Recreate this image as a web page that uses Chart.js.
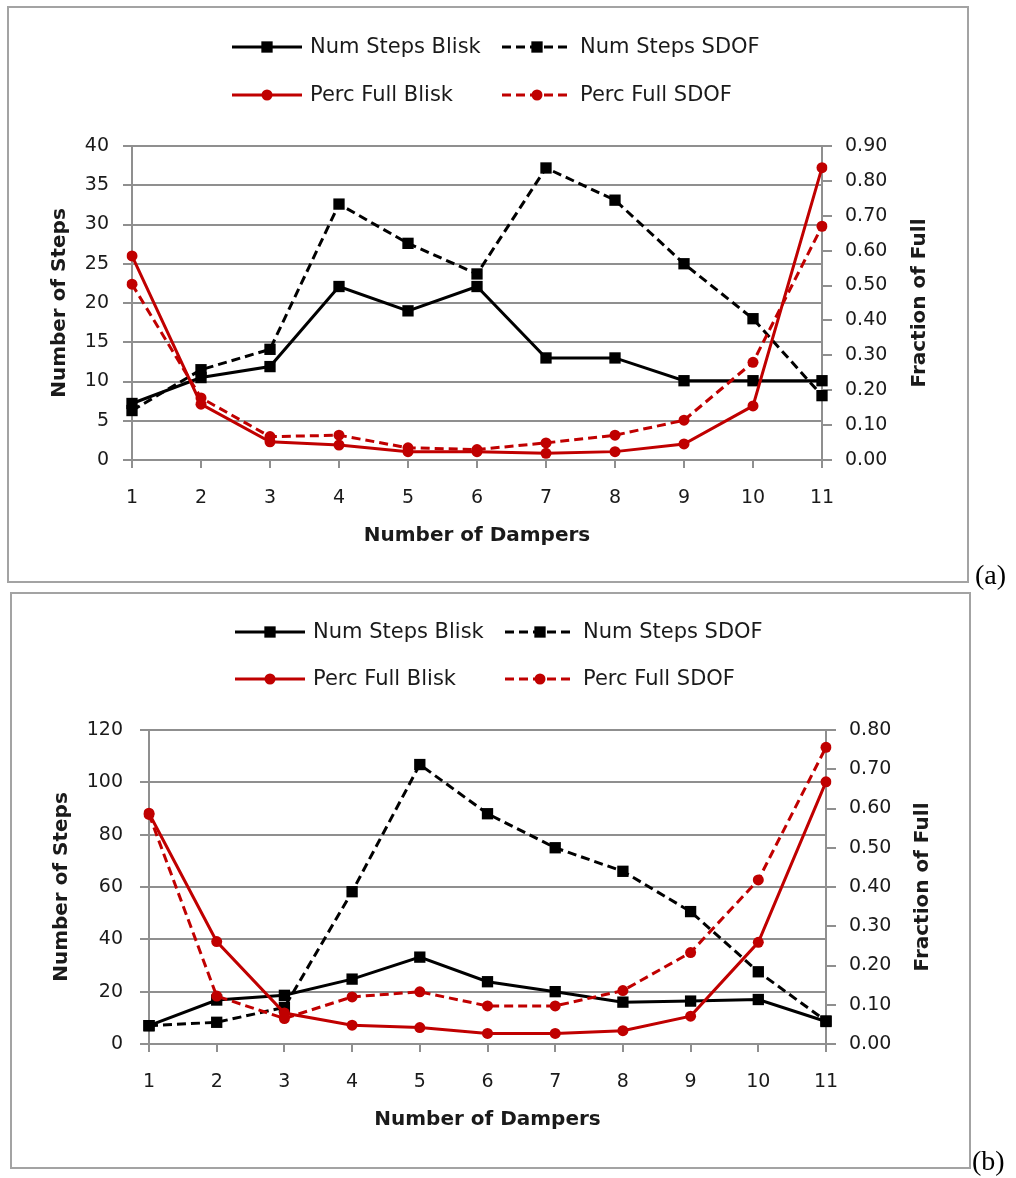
<!DOCTYPE html>
<html>
<head>
<meta charset="utf-8">
<script src="https://cdn.jsdelivr.net/npm/chart.js@4.4.0/dist/chart.umd.min.js"></script>
<style>
  body { margin: 0; background: #fff; width: 1016px; height: 1178px; position: relative; overflow: hidden; }
  .frame { position: absolute; border: 2px solid #a3a3a3; box-sizing: border-box; }
  canvas { position: absolute; left: 0; }
  .tag { position: absolute; font-family: "Liberation Serif", "DejaVu Serif", serif; font-size: 28px; color: #000; line-height: 1; }
</style>
</head>
<body>
<div class="frame" style="left:7px;top:6px;width:962px;height:577px"></div>
<div class="frame" style="left:10px;top:592px;width:961px;height:577px"></div>
<canvas id="chartA" width="1016" height="590" style="top:0"></canvas>
<canvas id="chartB" width="1016" height="588" style="top:590px"></canvas>
<div class="tag" style="left:975px;top:561px">(a)</div>
<div class="tag" style="left:972px;top:1147px">(b)</div>

<script>
// Number of dampers on the x axis
const dampers = ['1', '2', '3', '4', '5', '6', '7', '8', '9', '10', '11'];

// Panel (a)
const stepsBliskA = [7.2, 10.5, 11.9, 22.1, 19.0, 22.1, 13.0, 13.0, 10.1, 10.1, 10.1];
const stepsSdofA  = [6.3, 11.5, 14.1, 32.6, 27.6, 23.7, 37.2, 33.1, 25.0, 18.0, 8.2];
const percBliskA  = [0.585, 0.160, 0.052, 0.043, 0.024, 0.024, 0.019, 0.024, 0.046, 0.155, 0.838];
const percSdofA   = [0.504, 0.178, 0.067, 0.071, 0.035, 0.030, 0.049, 0.071, 0.114, 0.280, 0.670];
const stepRangeA  = [0, 40, 5];      // min, max, step
const fracRangeA  = [0, 0.9, 0.1];

// Panel (b)
const stepsBliskB = [7.0, 16.8, 18.6, 24.8, 33.2, 23.8, 20.0, 16.0, 16.4, 17.0, 8.6];
const stepsSdofB  = [7.0, 8.3, 14.0, 58.2, 106.8, 88.0, 75.0, 66.0, 50.6, 27.6, 8.8];
const percBliskB  = [0.588, 0.261, 0.079, 0.048, 0.042, 0.027, 0.027, 0.034, 0.071, 0.259, 0.668];
const percSdofB   = [0.585, 0.122, 0.065, 0.120, 0.133, 0.097, 0.097, 0.136, 0.233, 0.418, 0.756];
const stepRangeB  = [0, 120, 20];
const fracRangeB  = [0, 0.8, 0.1];

const seriesNames = ['Num Steps Blisk', 'Num Steps SDOF', 'Perc Full Blisk', 'Perc Full SDOF'];

const BLACK = '#000000';
const RED = '#c00000';
const GRID = '#8f8f8f';
const TEXT = '#1a1a1a';
const DASH = [9, 5];
const FONT = 'DejaVu Sans';

// Two-row legend laid out as a grid, plus the right-hand axis title
const gridLegend = {
  id: 'gridLegend',
  afterDraw(chart, args, opts) {
    const ctx = chart.ctx;
    ctx.save();
    chart.data.datasets.forEach((ds, i) => {
      const row = Math.floor(i / 2), col = i % 2;
      const x0 = opts.cols[col], y = opts.rows[row];
      const w = opts.swatch;
      ctx.strokeStyle = ds.borderColor;
      ctx.lineWidth = ds.borderWidth;
      ctx.setLineDash(ds.borderDash || []);
      ctx.beginPath();
      ctx.moveTo(x0, y);
      ctx.lineTo(x0 + w, y);
      ctx.stroke();
      ctx.setLineDash([]);
      ctx.fillStyle = ds.borderColor;
      const cx = x0 + w / 2, r = ds.pointRadius;
      ctx.beginPath();
      if (ds.pointStyle === 'rect') {
        const s = Math.SQRT1_2 * r;
        ctx.rect(cx - s, y - s, 2 * s, 2 * s);
      } else {
        ctx.arc(cx, y, r, 0, Math.PI * 2);
      }
      ctx.fill();
      ctx.fillStyle = TEXT;
      ctx.font = opts.font;
      ctx.textBaseline = 'middle';
      ctx.textAlign = 'left';
      ctx.fillText(ds.label, x0 + w + opts.gap, y + 1);
    });
    // right axis title, reading bottom to top
    const area = chart.chartArea;
    ctx.translate(opts.rightTitleX, (area.top + area.bottom) / 2);
    ctx.rotate(-Math.PI / 2);
    ctx.font = 'bold 20px "' + FONT + '"';
    ctx.fillStyle = TEXT;
    ctx.textAlign = 'center';
    ctx.textBaseline = 'middle';
    ctx.fillText('Fraction of Full', 0, 0);
    ctx.restore();
  }
};

function series(label, data, axis, color, dash, style, radius, order) {
  return {
    label, data, yAxisID: axis,
    borderColor: color, backgroundColor: color,
    borderWidth: 3, borderDash: dash,
    pointStyle: style, pointRadius: radius, pointBorderWidth: 0,
    pointBackgroundColor: color, pointBorderColor: color,
    tension: 0, fill: false, order
  };
}

function buildChart(id, d, g) {
  return new Chart(document.getElementById(id), {
    type: 'line',
    data: {
      labels: dampers,
      datasets: [
        series(seriesNames[0], d.stepsBlisk, 'ySteps', BLACK, [], 'rect', 8, 2),
        series(seriesNames[1], d.stepsSdof, 'ySteps', BLACK, DASH, 'rect', 8, 2),
        series(seriesNames[2], d.percBlisk, 'yFrac', RED, [], 'circle', 5.5, 1),
        series(seriesNames[3], d.percSdof, 'yFrac', RED, DASH, 'circle', 5.5, 1)
      ]
    },
    options: {
      responsive: false,
      animation: false,
      devicePixelRatio: 1,
      layout: { padding: g.padding },
      plugins: {
        legend: { display: false },
        tooltip: { enabled: false },
        gridLegend: {
          cols: g.legendCols, rows: g.legendRows, swatch: 70, gap: 8,
          font: '21px "' + FONT + '"', rightTitleX: g.rightTitleX
        }
      },
      scales: {
        x: {
          type: 'category',
          offset: false,
          grid: { drawOnChartArea: false, drawTicks: true, tickLength: 8, color: GRID, lineWidth: 2 },
          border: { display: false },
          ticks: { padding: 19, autoSkip: false, maxRotation: 0, color: TEXT, font: { family: FONT, size: 19 } },
          title: {
            display: true, text: 'Number of Dampers', color: TEXT,
            font: { family: FONT, size: 20, weight: 'bold', lineHeight: 1.2 },
            padding: { top: 0, bottom: 12 }
          },
          afterFit(s) { s.height = 100; }
        },
        ySteps: {
          position: 'left',
          min: d.stepRange[0], max: d.stepRange[1],
          ticks: { stepSize: d.stepRange[2], padding: g.leftPad, color: TEXT, font: { family: FONT, size: 19 } },
          grid: { color: GRID, lineWidth: 2, tickLength: 9 },
          border: { display: true, color: GRID, width: 2 },
          title: {
            display: true, text: 'Number of Steps', color: TEXT,
            font: { family: FONT, size: 20, weight: 'bold', lineHeight: 1.2 },
            padding: { top: g.leftTitlePad, bottom: 0 }
          },
          afterFit(s) { s.width = g.leftWidth; }
        },
        yFrac: {
          position: 'right',
          min: d.fracRange[0], max: d.fracRange[1],
          ticks: {
            stepSize: d.fracRange[2], padding: 13, color: TEXT, font: { family: FONT, size: 19 },
            callback: v => Number(v).toFixed(2)
          },
          grid: { drawOnChartArea: false, color: GRID, lineWidth: 2, tickLength: 10 },
          border: { display: true, color: GRID, width: 2 },
          afterFit(s) { s.width = 140; }
        }
      }
    },
    plugins: [gridLegend]
  });
}

buildChart('chartA', {
  stepsBlisk: stepsBliskA, stepsSdof: stepsSdofA,
  percBlisk: percBliskA, percSdof: percSdofA,
  stepRange: stepRangeA, fracRange: fracRangeA
}, {
  padding: { left: 36, top: 146, right: 54, bottom: 30 },
  leftWidth: 96, leftPad: 14, leftTitlePad: 12,
  legendCols: [232, 502], legendRows: [47, 95],
  rightTitleX: 920
});

buildChart('chartB', {
  stepsBlisk: stepsBliskB, stepsSdof: stepsSdofB,
  percBlisk: percBliskB, percSdof: percSdofB,
  stepRange: stepRangeB, fracRange: fracRangeB
}, {
  padding: { left: 40, top: 140, right: 50, bottom: 34 },
  leftWidth: 109, leftPad: 17, leftTitlePad: 10,
  legendCols: [235, 505], legendRows: [42, 89],
  rightTitleX: 923
});
</script>
</body>
</html>
